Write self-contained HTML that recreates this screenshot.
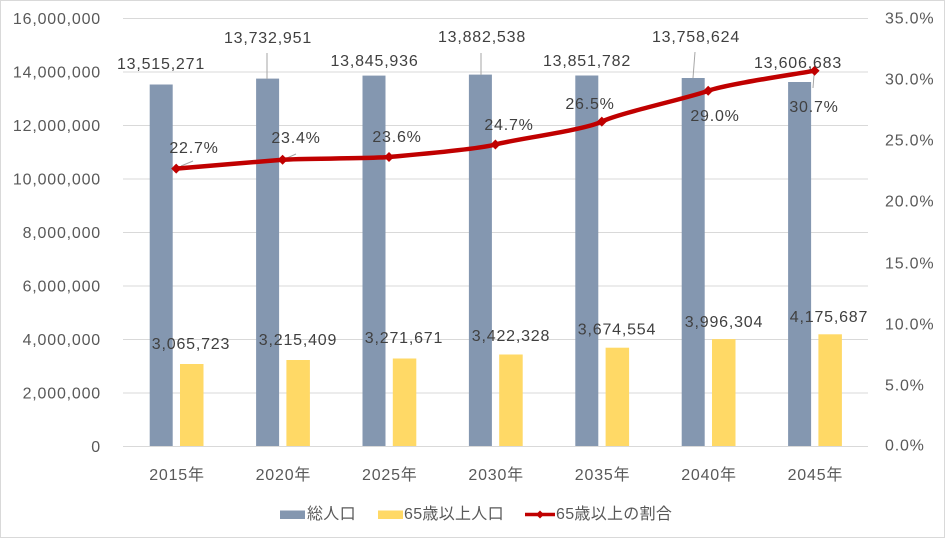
<!DOCTYPE html>
<html><head><meta charset="utf-8">
<style>
html,body{margin:0;padding:0;background:#fff;}
svg{display:block;}
text{font-family:"Liberation Sans","Noto Sans CJK JP",sans-serif;font-size:16px;letter-spacing:0.8px;}
.ax{fill:#595959;}
.dl{fill:#404040;}
.lg{letter-spacing:0.3px;}
</style></head>
<body>
<svg width="946" height="539" viewBox="0 0 946 539" xmlns="http://www.w3.org/2000/svg">
<rect x="0" y="0" width="946" height="539" fill="#fff"/>
<rect x="0.5" y="0.5" width="944" height="537" fill="none" stroke="#D9D9D9" stroke-width="1"/>
<!-- gridlines -->
<g stroke="#D9D9D9" stroke-width="1">
<line x1="123" y1="18.5" x2="868" y2="18.5"/>
<line x1="123" y1="72" x2="868" y2="72"/>
<line x1="123" y1="125.5" x2="868" y2="125.5"/>
<line x1="123" y1="179" x2="868" y2="179"/>
<line x1="123" y1="232.5" x2="868" y2="232.5"/>
<line x1="123" y1="286" x2="868" y2="286"/>
<line x1="123" y1="339.5" x2="868" y2="339.5"/>
<line x1="123" y1="393" x2="868" y2="393"/>
<line x1="123" y1="446.5" x2="868" y2="446.5"/>
</g>
<!-- left axis labels -->
<g class="ax" text-anchor="end">
<text x="101" y="24">16,000,000</text>
<text x="101" y="77.5">14,000,000</text>
<text x="101" y="131">12,000,000</text>
<text x="101" y="184.5">10,000,000</text>
<text x="101" y="238">8,000,000</text>
<text x="101" y="291.5">6,000,000</text>
<text x="101" y="345">4,000,000</text>
<text x="101" y="398.5">2,000,000</text>
<text x="101" y="452">0</text>
</g>
<!-- right axis labels -->
<g class="ax">
<text x="885" y="23.5">35.0%</text>
<text x="885" y="84.5">30.0%</text>
<text x="885" y="145.5">25.0%</text>
<text x="885" y="206.5">20.0%</text>
<text x="885" y="268.5">15.0%</text>
<text x="885" y="329.5">10.0%</text>
<text x="885" y="390.5">5.0%</text>
<text x="885" y="450.5">0.0%</text>
</g>
<!-- bars blue -->
<g fill="#8497B0">
<rect x="149.7" y="84.5" width="23" height="361.5"/>
<rect x="256.1" y="78.6" width="23" height="367.4"/>
<rect x="362.5" y="75.6" width="23" height="370.4"/>
<rect x="468.9" y="74.6" width="23" height="371.4"/>
<rect x="575.3" y="75.5" width="23" height="370.5"/>
<rect x="681.7" y="78.0" width="23" height="368.0"/>
<rect x="788.1" y="82.0" width="23" height="364.0"/>
</g>
<!-- bars yellow -->
<g fill="#FFD966">
<rect x="180" y="364.0" width="23.5" height="82.0"/>
<rect x="286.4" y="360.0" width="23.5" height="86.0"/>
<rect x="392.8" y="358.5" width="23.5" height="87.5"/>
<rect x="499.2" y="354.5" width="23.5" height="91.5"/>
<rect x="605.6" y="347.7" width="23.5" height="98.3"/>
<rect x="712" y="339.1" width="23.5" height="106.9"/>
<rect x="818.4" y="334.3" width="23.5" height="111.7"/>
</g>
<!-- leader lines -->
<g stroke="#A6A6A6" stroke-width="1" fill="none">
<line x1="267" y1="53" x2="267" y2="79"/>
<line x1="481" y1="53" x2="481" y2="75"/>
<line x1="695" y1="52" x2="693" y2="78"/>
<line x1="181" y1="166" x2="193" y2="161"/>
<line x1="287" y1="158" x2="296" y2="154"/>
<line x1="814" y1="75" x2="813" y2="88"/>
</g>
<!-- line series -->
<path d="M176.2,168.6 C193.9,167.1 264.9,161.2 282.6,159.7 C300.3,158.4 371.3,158.7 389,157 C406.7,155.3 477.7,149.5 495.4,144.5 C513.1,139.5 584.1,130.2 601.8,121.6 C619.5,113 690.5,97.5 708.2,90.8 C725.9,84.1 796.9,74 814.6,70.7" fill="none" stroke="#C00000" stroke-width="4.5" stroke-linejoin="round" stroke-linecap="round"/>
<g fill="#C00000">
<polygon points="176.2,163.6 181.2,168.6 176.2,173.6 171.2,168.6"/>
<polygon points="282.6,154.7 287.6,159.7 282.6,164.7 277.6,159.7"/>
<polygon points="389,152 394,157 389,162 384,157"/>
<polygon points="495.4,139.5 500.4,144.5 495.4,149.5 490.4,144.5"/>
<polygon points="601.8,116.6 606.8,121.6 601.8,126.6 596.8,121.6"/>
<polygon points="708.2,85.8 713.2,90.8 708.2,95.8 703.2,90.8"/>
<polygon points="814.6,65.7 819.6,70.7 814.6,75.7 809.6,70.7"/>
</g>
<!-- data labels total -->
<g class="dl" text-anchor="middle">
<text x="161" y="69">13,515,271</text>
<text x="268" y="43">13,732,951</text>
<text x="374.5" y="66">13,845,936</text>
<text x="482" y="42">13,882,538</text>
<text x="587" y="66">13,851,782</text>
<text x="696" y="42">13,758,624</text>
<text x="798" y="68">13,606,683</text>
</g>
<!-- data labels 65+ -->
<g class="dl" text-anchor="middle">
<text x="191" y="349">3,065,723</text>
<text x="298" y="345">3,215,409</text>
<text x="404" y="343">3,271,671</text>
<text x="511" y="341">3,422,328</text>
<text x="617" y="334.5">3,674,554</text>
<text x="724" y="327">3,996,304</text>
<text x="829" y="322">4,175,687</text>
</g>
<!-- percent labels -->
<g class="dl" text-anchor="middle">
<text x="194" y="153">22.7%</text>
<text x="296" y="143">23.4%</text>
<text x="397" y="142">23.6%</text>
<text x="509" y="130">24.7%</text>
<text x="590" y="109">26.5%</text>
<text x="715" y="121">29.0%</text>
<text x="814" y="112">30.7%</text>
</g>
<!-- x labels -->
<g class="ax" text-anchor="middle">
<text x="177" y="480">2015年</text>
<text x="283.4" y="480">2020年</text>
<text x="389.8" y="480">2025年</text>
<text x="496.2" y="480">2030年</text>
<text x="602.6" y="480">2035年</text>
<text x="709" y="480">2040年</text>
<text x="815.4" y="480">2045年</text>
</g>
<!-- legend -->
<rect x="280" y="510.5" width="25" height="8.5" fill="#8497B0"/>
<text class="ax lg" x="307" y="519">総人口</text>
<rect x="378" y="510.5" width="25" height="8.5" fill="#FFD966"/>
<text class="ax lg" x="404" y="519">65歳以上人口</text>
<line x1="525" y1="514.5" x2="555" y2="514.5" stroke="#C00000" stroke-width="3.5"/>
<polygon points="540,510.5 544,514.5 540,518.5 536,514.5" fill="#C00000"/>
<text class="ax lg" x="556" y="519">65歳以上の割合</text>
</svg>
</body></html>
